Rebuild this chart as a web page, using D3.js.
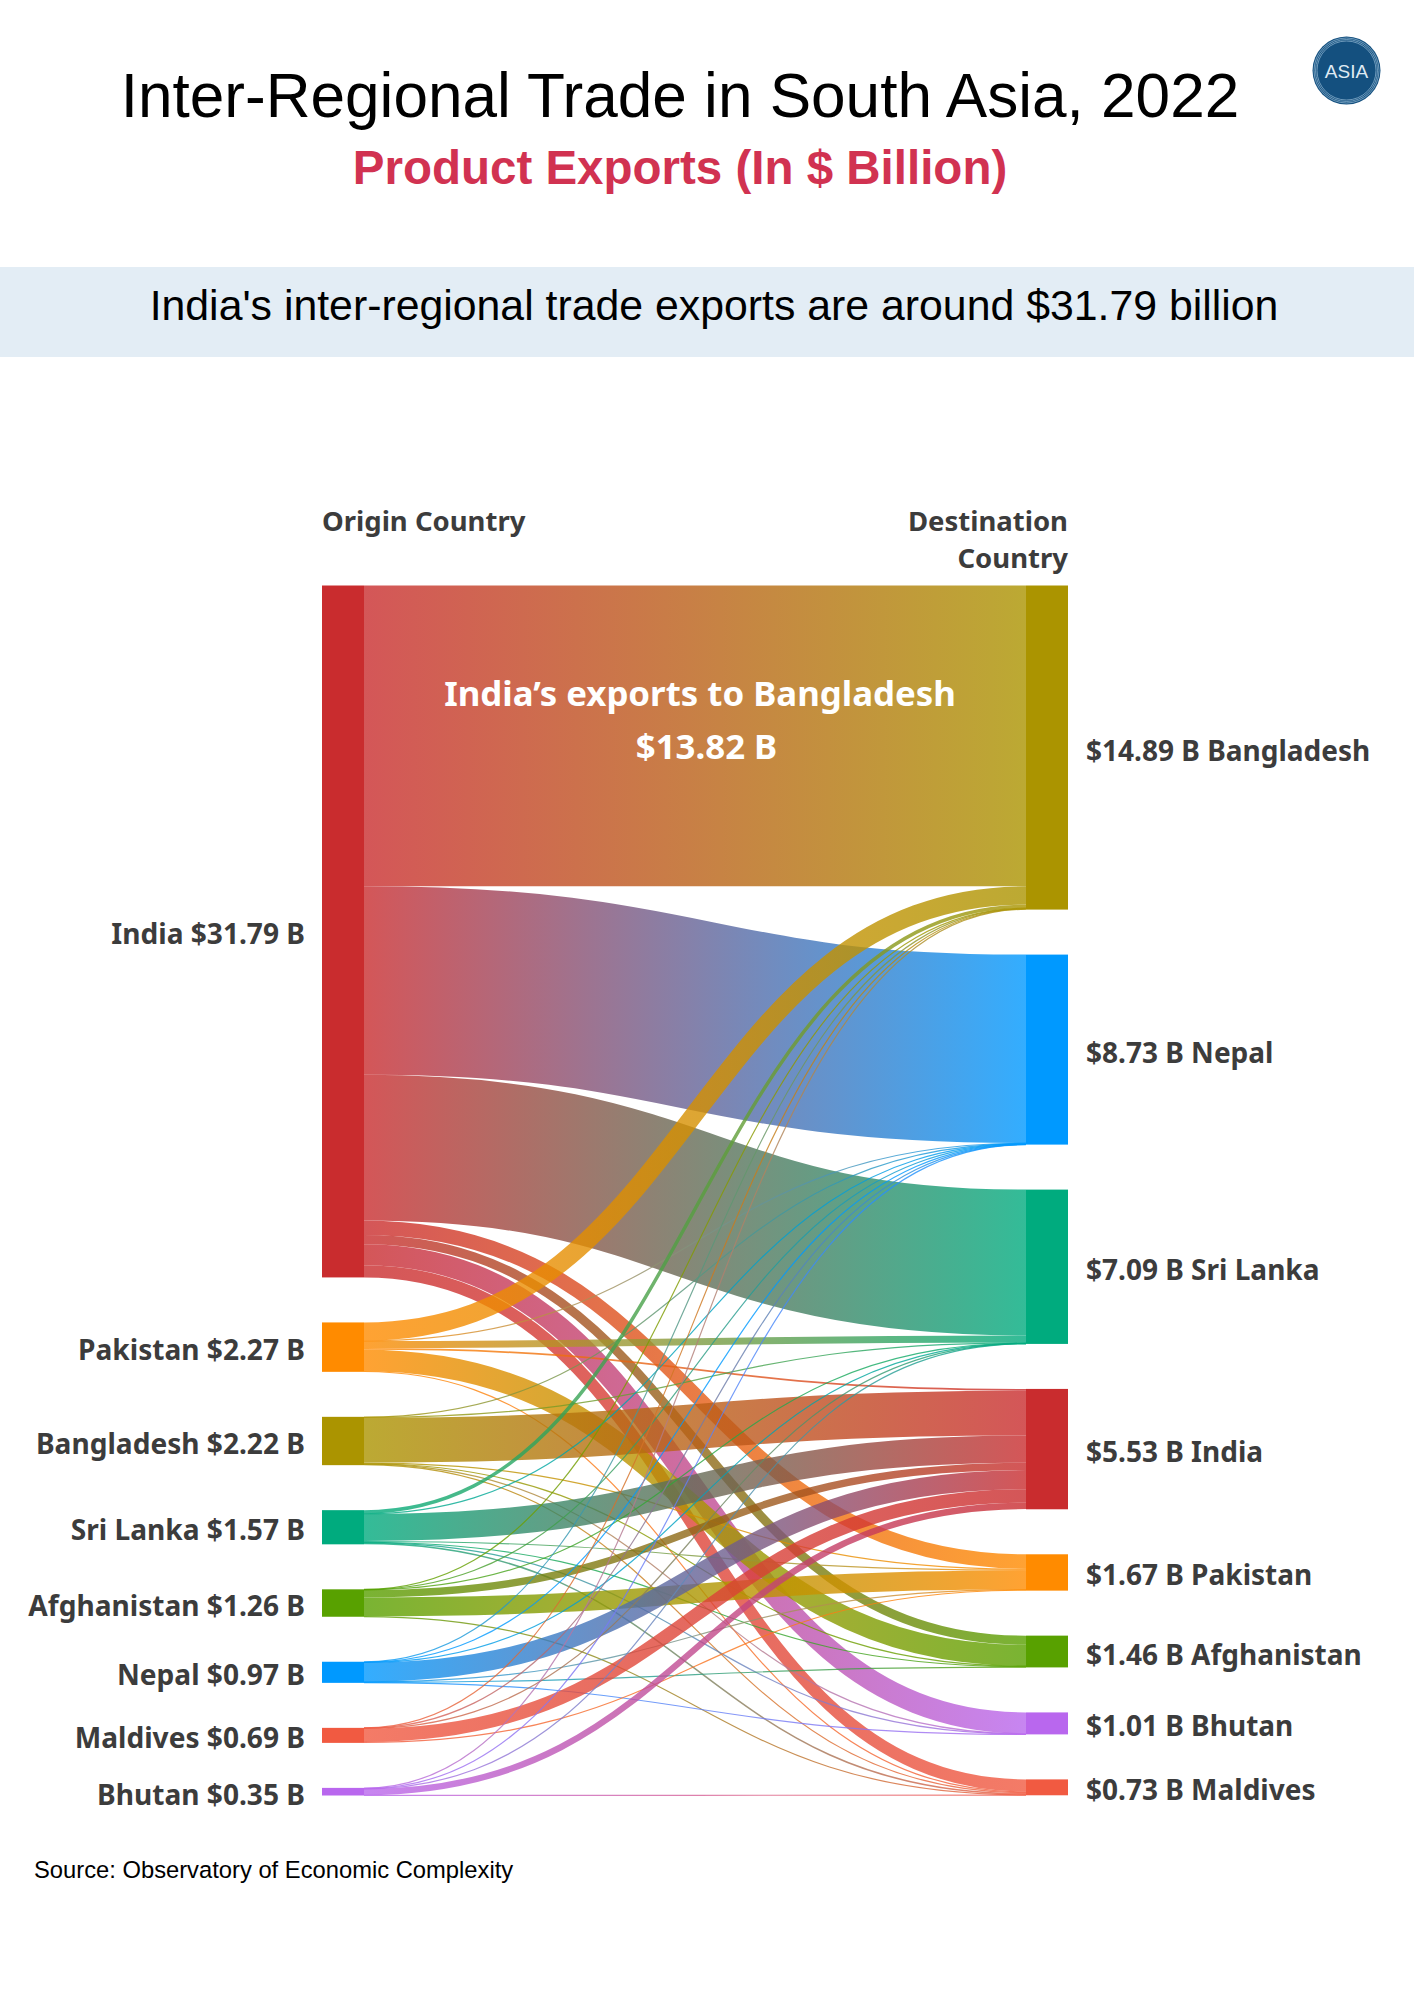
<!DOCTYPE html>
<html>
<head>
<meta charset="utf-8">
<script src="https://cdn.jsdelivr.net/npm/d3@7"></script>
<style>
  html, body { margin: 0; padding: 0; background: #fff; }
  .lbl { font-family: "Noto Sans", sans-serif; font-weight: 700; fill: #3c3c3c; }
  .head { font-family: "Liberation Sans", Arial, sans-serif; }
</style>
</head>
<body>
<svg id="chart" width="1414" height="2000"></svg>
<script>
// origin column, top to bottom
var origins = ["India", "Pakistan", "Bangladesh", "Sri Lanka", "Afghanistan", "Nepal", "Maldives", "Bhutan"];
var originTotals = [31.79, 2.27, 2.22, 1.57, 1.26, 0.97, 0.69, 0.35];

// destination column, top to bottom
var destinations = ["Bangladesh", "Nepal", "Sri Lanka", "India", "Pakistan", "Afghanistan", "Bhutan", "Maldives"];
var destTotals = [14.89, 8.73, 7.09, 5.53, 1.67, 1.46, 1.01, 0.73];

var fromIndia       = [13.82, 8.66, 6.70, 0,    0.66, 0.42, 0.97, 0.56];
var fromPakistan    = [0.84,  0.01, 0.33, 0.08, 0,    0.98, 0,    0.03];
var fromBangladesh  = [0,     0.02, 0.02, 2.06, 0.05, 0.01, 0.02, 0.04];
var fromSriLanka    = [0.16,  0.01, 0,    1.25, 0.04, 0.03, 0.01, 0.07];
var fromAfghanistan = [0.01,  0.01, 0.01, 0.34, 0.87, 0,    0,    0.02];
var fromNepal       = [0.02,  0.01, 0.01, 0.88, 0.01, 0.02, 0.02, 0];
var fromMaldives    = [0.01,  0.01, 0.01, 0.62, 0.04, 0,    0,    0];
var fromBhutan      = [0.03,  0.01, 0.01, 0.29, 0,    0,    0,    0.01];
var flows = [fromIndia, fromPakistan, fromBangladesh, fromSriLanka, fromAfghanistan, fromNepal, fromMaldives, fromBhutan];

var countryColors = {
	"India": "#c92c2e", "Pakistan": "#ff8b00", "Bangladesh": "#ab9400", "Sri Lanka": "#00ab7e",
	"Afghanistan": "#58a100", "Nepal": "#0099ff", "Maldives": "#f15a41", "Bhutan": "#b967ee"
};

var svg = d3.select("#chart");
var top_y = 585.5, bottom_y = 1795.5, nodePad = 45, nodeW = 42;

var heightScale = d3.scaleLinear()
	.domain([0, d3.sum(originTotals)])
	.range([0, bottom_y - top_y - nodePad * (origins.length - 1)]);
var colX = d3.scalePoint().domain(["origin", "destination"]).range([322, 1026]);

// stack the nodes of one column
function stackNodes(names, totals, side) {
	var y = top_y;
	return names.map(function(name, i) {
		var n = { name: name, value: totals[i], side: side, y0: y, y1: y + heightScale(totals[i]), used: 0 };
		y = n.y1 + nodePad;
		return n;
	});
}
var leftNodes = stackNodes(origins, originTotals, "origin");
var rightNodes = stackNodes(destinations, destTotals, "destination");

// links stacked by destination order on the left, origin order on the right
var links = [];
flows.forEach(function(row, i) {
	row.forEach(function(v, j) {
		if (v > 0) links.push({ source: leftNodes[i], target: rightNodes[j], value: v });
	});
});
links.forEach(function(l) {
	var h = heightScale(l.value);
	l.h = h;
	l.sy = l.source.y0 + l.source.used + h / 2;
	l.source.used += h;
	l.ty = l.target.y0 + l.target.used + h / 2;
	l.target.used += h;
});

var linkX0 = colX("origin") + nodeW, linkX1 = colX("destination");

// ribbons are wide strokes along a horizontal link curve
var ribbon = d3.linkHorizontal()
	.source(function(l) { return [linkX0, l.sy]; })
	.target(function(l) { return [linkX1, l.ty]; });

var defs = svg.append("defs");
links.forEach(function(l, i) {
	var g = defs.append("linearGradient").attr("id", "grad" + i)
		.attr("gradientUnits", "userSpaceOnUse")
		.attr("x1", linkX0).attr("x2", linkX1).attr("y1", 0).attr("y2", 0);
	g.append("stop").attr("offset", "0%").attr("stop-color", countryColors[l.source.name]);
	g.append("stop").attr("offset", "100%").attr("stop-color", countryColors[l.target.name]);
});

// header
svg.append("text").attr("class", "head").attr("x", 680).attr("y", 117).attr("text-anchor", "middle")
	.attr("font-size", 62.1).attr("fill", "#000").text("Inter-Regional Trade in South Asia, 2022");
svg.append("text").attr("class", "head").attr("x", 680).attr("y", 184).attr("text-anchor", "middle")
	.attr("font-size", 47.5).attr("font-weight", 700).attr("fill", "#d13251").text("Product Exports (In $ Billion)");
svg.append("rect").attr("x", 0).attr("y", 267).attr("width", 1414).attr("height", 90).attr("fill", "#e3edf5");
svg.append("text").attr("class", "head").attr("x", 714).attr("y", 320).attr("text-anchor", "middle")
	.attr("font-size", 42.8).attr("fill", "#000").text("India's inter-regional trade exports are around $31.79 billion");

// logo
var logo = svg.append("g").attr("transform", "translate(1346.5,70.5)");
logo.append("circle").attr("r", 34).attr("fill", "#14507f");
[32.5, 31, 29.5].forEach(function(r) {
	logo.append("circle").attr("r", r).attr("fill", "none").attr("stroke", "#a9cbe2").attr("stroke-width", 0.6);
});
logo.append("text").attr("class", "head").attr("y", 7).attr("text-anchor", "middle")
	.attr("font-size", 19).attr("fill", "#dfeaf3").text("ASIA");

// ribbons
svg.append("g").attr("fill", "none").selectAll("path")
	.data(links)
	.enter().append("path")
	.attr("d", ribbon)
	.attr("stroke", function(l, i) { return "url(#grad" + i + ")"; })
	.attr("stroke-width", function(l) { return Math.max(l.h, 1.2); })
	.attr("opacity", 0.8);

// node bars
svg.append("g").selectAll("rect")
	.data(leftNodes.concat(rightNodes))
	.enter().append("rect")
	.attr("x", function(n) { return colX(n.side); })
	.attr("y", function(n) { return n.y0; })
	.attr("width", nodeW)
	.attr("height", function(n) { return n.y1 - n.y0; })
	.attr("fill", function(n) { return countryColors[n.name]; });

// node labels
svg.append("g").selectAll("text")
	.data(leftNodes)
	.enter().append("text")
	.attr("class", "lbl")
	.attr("x", 305)
	.attr("y", function(n) { return (n.y0 + n.y1) / 2 + 13; })
	.attr("text-anchor", "end")
	.attr("font-size", 28.1)
	.text(function(n) { return n.name + " $" + n.value.toFixed(2) + " B"; });

svg.append("g").selectAll("text")
	.data(rightNodes)
	.enter().append("text")
	.attr("class", "lbl")
	.attr("x", 1086)
	.attr("y", function(n) { return (n.y0 + n.y1) / 2 + 13; })
	.attr("font-size", 28)
	.text(function(n) { return "$" + n.value.toFixed(2) + " B " + n.name; });

// column titles
svg.append("text").attr("class", "lbl").attr("x", 322).attr("y", 531).attr("font-size", 27.5).text("Origin Country");
svg.append("text").attr("class", "lbl").attr("x", 1068).attr("y", 531).attr("text-anchor", "end").attr("font-size", 27.5).text("Destination");
svg.append("text").attr("class", "lbl").attr("x", 1068).attr("y", 568).attr("text-anchor", "end").attr("font-size", 27.5).text("Country");

// note on the biggest ribbon
svg.append("text").attr("class", "lbl").attr("x", 700).attr("y", 706).attr("text-anchor", "middle")
	.attr("font-size", 34.8).style("fill", "#fff").text("India\u2019s exports to Bangladesh");
svg.append("text").attr("class", "lbl").attr("x", 706.5).attr("y", 759).attr("text-anchor", "middle")
	.attr("font-size", 34.8).style("fill", "#fff").text("$13.82 B");

svg.append("text").attr("class", "head").attr("x", 34).attr("y", 1878).attr("font-size", 23.75)
	.attr("fill", "#000").text("Source: Observatory of Economic Complexity");
</script>
</body>
</html>
